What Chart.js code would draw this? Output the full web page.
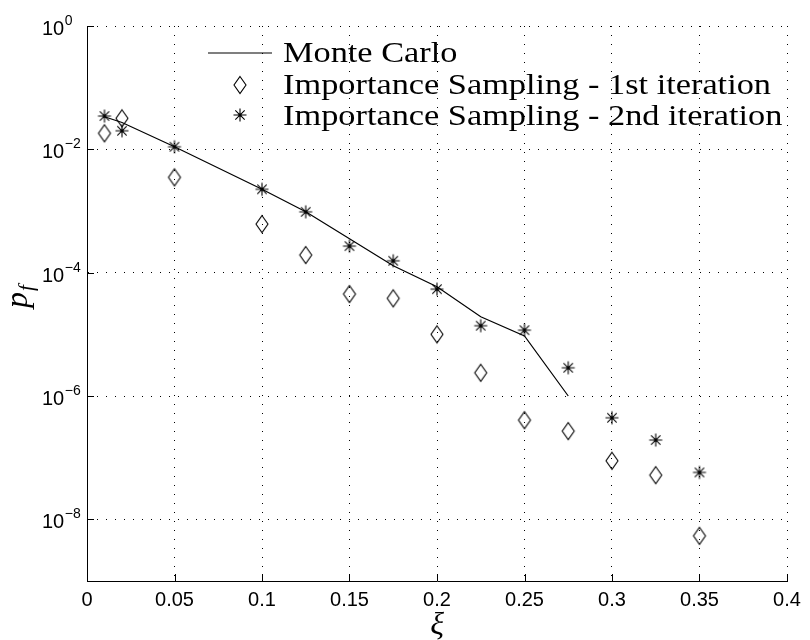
<!DOCTYPE html>
<html>
<head>
<meta charset="utf-8">
<script src="https://cdn.jsdelivr.net/npm/chart.js@4"></script>
<style>
  body { margin: 0; background: #fff; }
</style>
</head>
<body>
<canvas id="pfchart" width="810" height="640"></canvas>
<script>
// values
const xiTicks = [0, 0.05, 0.1, 0.15, 0.2, 0.25, 0.3, 0.35, 0.4];
const pfTicks = [1, 1e-2, 1e-4, 1e-6, 1e-8];

const mcXi = [0.01, 0.02, 0.05, 0.1, 0.125, 0.15, 0.175, 0.2, 0.225, 0.25, 0.275];
const mcPf = [3.38e-2, 2.72e-2, 1.1e-2, 2.25e-3, 9.7e-4, 3.55e-4, 1.29e-4, 5.9e-5, 1.93e-5, 9.4e-6, 1.0e-6];

const isXi = [0.01, 0.02, 0.05, 0.1, 0.125, 0.15, 0.175, 0.2, 0.225, 0.25, 0.275, 0.3, 0.325, 0.35];
const is1Pf = [1.82e-2, 3.18e-2, 3.51e-3, 6.14e-4, 1.93e-4, 4.5e-5, 3.83e-5, 1.0e-5, 2.38e-6, 4.06e-7, 2.7e-7, 8.9e-8, 5.2e-8, 5.4e-9];
const is2Pf = [3.47e-2, 2.0e-2, 1.1e-2, 2.25e-3, 9.7e-4, 2.7e-4, 1.56e-4, 5.4e-5, 1.38e-5, 1.17e-5, 2.87e-6, 4.43e-7, 1.93e-7, 5.77e-8];

const legendLabels = ['Monte Carlo', 'Importance Sampling - 1st iteration', 'Importance Sampling - 2nd iteration'];

// marker images (matlab style diamond and asterisk)
function diamondMarker() {
    const c = document.createElement('canvas');
    c.width = 16; c.height = 22;
    const g = c.getContext('2d');
    g.strokeStyle = '#000';
    g.lineWidth = 1.1;
    g.beginPath();
    g.moveTo(8, 2.5); g.lineTo(14, 11); g.lineTo(8, 19.5); g.lineTo(2, 11); g.closePath();
    g.stroke();
    return c;
}
function starMarker() {
    const c = document.createElement('canvas');
    c.width = 16; c.height = 16;
    const g = c.getContext('2d');
    g.strokeStyle = '#000';
    g.lineWidth = 1.1;
    const r = 6.5, d = r * 0.72;
    g.beginPath();
    g.moveTo(8, 8 - r); g.lineTo(8, 8 + r);
    g.moveTo(8 - r, 8); g.lineTo(8 + r, 8);
    g.moveTo(8 - d, 8 - d); g.lineTo(8 + d, 8 + d);
    g.moveTo(8 - d, 8 + d); g.lineTo(8 + d, 8 - d);
    g.stroke();
    g.fillStyle = '#000';
    g.beginPath(); g.arc(8, 8, 1.5, 0, Math.PI * 2); g.fill();
    return c;
}
const diamondImg = diamondMarker();
const starImg = starMarker();

function toPoints(xs, ys) {
    return xs.map((x, i) => ({ x: x, y: ys[i] }));
}

// y tick labels with superscripts, inward ticks, axis titles, legend
const decorPlugin = {
    id: 'decor',
    afterDraw(chart) {
        const ctx = chart.ctx;
        const xs = chart.scales.x, ys = chart.scales.y;
        const area = chart.chartArea;
        ctx.save();
        ctx.fillStyle = '#000';
        ctx.strokeStyle = '#000';
        ctx.lineWidth = 1;

        // inward ticks
        ctx.beginPath();
        xiTicks.forEach(v => {
            const px = Math.round(xs.getPixelForValue(v)) + 0.5;
            ctx.moveTo(px, area.bottom); ctx.lineTo(px, area.bottom - 7);
        });
        pfTicks.forEach(v => {
            const py = Math.round(ys.getPixelForValue(v)) + 0.5;
            ctx.moveTo(area.left, py); ctx.lineTo(area.left + 7, py);
        });
        ctx.stroke();

        // y tick labels 10^n
        ctx.textBaseline = 'alphabetic';
        ctx.textAlign = 'left';
        pfTicks.forEach(v => {
            const py = ys.getPixelForValue(v);
            const exp = Math.round(Math.log10(v));
            ctx.font = '20px "Liberation Sans", Arial, sans-serif';
            ctx.fillText('10', 42, py + 9);
            const w = ctx.measureText('10').width;
            ctx.font = '14px "Liberation Sans", Arial, sans-serif';
            ctx.fillText(exp === 0 ? '0' : '\u2212' + Math.abs(exp), 42 + w + 0.5, py - 1);
        });

        // axis titles
        ctx.font = 'italic 32px "Liberation Serif", "Times New Roman", serif';
        ctx.textAlign = 'center';
        ctx.fillText('\u03BE', (area.left + area.right) / 2, 634);

        ctx.save();
        ctx.translate(27, 293);
        ctx.rotate(-Math.PI / 2);
        ctx.textAlign = 'left';
        ctx.font = 'italic 32px "Liberation Serif", "Times New Roman", serif';
        const pw = ctx.measureText('p').width;
        ctx.fillText('p', -15, 0);
        ctx.font = 'italic 21px "Liberation Serif", "Times New Roman", serif';
        ctx.fillText('f', -15 + pw + 1, 6);
        ctx.restore();

        // legend
        const tx = 283, baselines = [62, 94, 125];
        ctx.font = '30px "Liberation Serif", "Times New Roman", serif';
        const target = 488;
        const sx = target / ctx.measureText(legendLabels[1]).width;
        legendLabels.forEach((t, i) => {
            ctx.save();
            ctx.translate(tx, baselines[i]);
            ctx.scale(sx, 1);
            ctx.textAlign = 'left';
            ctx.fillText(t, 0, 0);
            ctx.restore();
        });
        ctx.lineWidth = 1.2;
        ctx.beginPath();
        ctx.moveTo(208, 53); ctx.lineTo(272, 53);
        ctx.stroke();
        ctx.drawImage(diamondImg, 240 - 8, 85 - 11);
        ctx.drawImage(starImg, 240 - 8, 115 - 8);
        ctx.restore();
    }
};

const ctx = document.getElementById('pfchart').getContext('2d');

const pfchart = new Chart(ctx, {
    type: 'scatter',
    data: {
        datasets: [{
            label: legendLabels[0],
            data: toPoints(mcXi, mcPf),
            showLine: true,
            borderColor: '#000',
            borderWidth: 1.2,
            pointRadius: 0,
            tension: 0,
        }, {
            label: legendLabels[1],
            data: toPoints(isXi, is1Pf),
            pointStyle: diamondImg,
            pointRadius: 8,
        }, {
            label: legendLabels[2],
            data: toPoints(isXi, is2Pf),
            pointStyle: starImg,
            pointRadius: 8,
        }]
    },
    options: {
        responsive: false,
        animation: false,
        layout: { padding: { top: 26, right: 23, left: 0, bottom: 0 } },
        plugins: {
            legend: { display: false },
            tooltip: { enabled: false },
        },
        scales: {
            x: {
                type: 'linear',
                min: 0,
                max: 0.4,
                afterBuildTicks: (scale) => { scale.ticks = xiTicks.map(v => ({ value: v })); },
                afterFit: (scale) => { scale.height = 59; },
                grid: { color: '#000', lineWidth: 1, drawTicks: false },
                border: { display: true, color: '#000', width: 1, dash: [1, 8] },
                ticks: {
                    padding: 7,
                    color: '#000',
                    font: { family: '"Liberation Sans", Arial, sans-serif', size: 20 },
                    callback: (v) => String(+Number(v).toFixed(2)),
                },
            },
            y: {
                type: 'logarithmic',
                min: 1e-9,
                max: 1,
                afterBuildTicks: (scale) => { scale.ticks = pfTicks.map(v => ({ value: v })); },
                afterFit: (scale) => { scale.width = 87; },
                grid: { color: '#000', lineWidth: 1, drawTicks: false },
                border: { display: true, color: '#000', width: 1, dash: [1, 8] },
                ticks: { display: false },
            },
        },
    },
    plugins: [decorPlugin],
});
</script>
</body>
</html>
